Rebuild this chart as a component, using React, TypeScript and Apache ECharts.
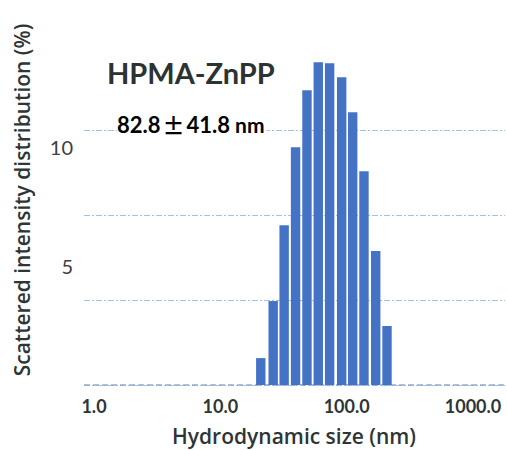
import React, { useEffect, useRef } from "react";
import * as echarts from "echarts";

// Bin centres (nm) and scattered intensity distribution (%)
const sizesNm = [20.9, 26.2, 32.0, 39.4, 48.5, 59.6, 73.3, 91.3, 111.6, 137.1, 169.8, 208.6];
const intensityPct = [1.13, 3.53, 6.72, 10.0, 12.39, 13.57, 13.53, 12.94, 11.47, 8.99, 5.63, 2.48];
const yTickLabels = [5, 10];
const gridLineLevels = [0, 1, 2, 3];

const sampleName = "HPMA-ZnPP";
const meanText = "82.8";
const pmText = "\u00b1";
const sdText = "41.8";
const unitText = "nm";
const xName = "Hydrodynamic size (nm)";
const yName = "Scattered intensity distribution (%)";

const FONT = "Lato, 'Open Sans', sans-serif";
const TITLE_FONT = "'Open Sans', Lato, sans-serif";

export default function App() {
  const ref = useRef<HTMLDivElement>(null);

  useEffect(() => {
    if (!ref.current) return;
    const chart = echarts.init(ref.current, undefined, { renderer: "svg" });
    const barData = sizesNm.map((s, i) => [s, intensityPct[i]]);

    chart.setOption({
      animation: false,
      backgroundColor: "#ffffff",
      grid: [
        { left: 94, right: 34, top: 52, bottom: 65 },
        { left: 84, right: 2, top: 130, bottom: 65 },
      ],
      xAxis: [
        {
          type: "log",
          gridIndex: 0,
          min: 1,
          max: 1000,
          logBase: 10,
          axisLine: { show: false },
          axisTick: { show: false },
          splitLine: { show: false },
          axisLabel: {
            margin: 12,
            color: "#2e3535",
            fontFamily: FONT,
            fontWeight: "bold",
            fontSize: 18,
            formatter: (v: number) => v.toFixed(1),
          },
        },
        {
          type: "value",
          gridIndex: 1,
          min: 0,
          max: 1,
          show: false,
        },
      ],
      yAxis: [
        {
          type: "value",
          gridIndex: 0,
          min: 0,
          max: 14,
          interval: 5,
          axisLine: { show: false },
          axisTick: { show: false },
          splitLine: { show: false },
          axisLabel: {
            margin: 21,
            color: "#404040",
            fontFamily: FONT,
            fontSize: 20,
            formatter: (v: number) => (yTickLabels.indexOf(v) >= 0 ? String(v) : ""),
          },
        },
        {
          type: "value",
          gridIndex: 1,
          min: gridLineLevels[0],
          max: gridLineLevels[gridLineLevels.length - 1],
          interval: 1,
          axisLine: { show: false },
          axisTick: { show: false },
          axisLabel: { show: false },
          splitLine: {
            show: true,
            lineStyle: { color: "#9dc3e6", width: 1, type: [6, 2, 2, 2] },
          },
        },
      ],
      series: [
        {
          type: "custom",
          xAxisIndex: 0,
          yAxisIndex: 0,
          z: 5,
          data: barData,
          renderItem: (params: any, api: any) => {
            const top = api.coord([api.value(0), api.value(1)]);
            const base = api.coord([api.value(0), 0]);
            const w = 9.4;
            return {
              type: "rect",
              shape: { x: top[0] - w / 2, y: top[1], width: w, height: base[1] - top[1] },
              style: { fill: "#4472c4" },
            };
          },
        },
        {
          type: "line",
          xAxisIndex: 1,
          yAxisIndex: 1,
          data: [],
          markLine: {
            silent: true,
            symbol: "none",
            label: { show: false },
            lineStyle: { color: "#94abc9", width: 1.5, type: [6, 3] },
            data: [{ yAxis: 0 }],
          },
        },
      ],
      graphic: [
        {
          type: "text",
          left: 107,
          top: 58,
          style: {
            text: sampleName,
            fill: "#2b3333",
            font: `bold 29px ${FONT}`,
          },
        },
        {
          type: "text",
          x: 117,
          y: 124,
          z: 10,
          style: {
            text: `{a|${meanText}}{b|${pmText}}{a|${sdText}}{c| ${unitText}}`,
            verticalAlign: "middle",
            backgroundColor: "#ffffff",
            padding: [0, 2, 0, 0],
            rich: {
              a: { fontFamily: FONT, fontSize: 22, fontWeight: "bold", color: "#343c3c" },
              b: { fontFamily: "'Noto Sans CJK JP', sans-serif", fontSize: 22, fontWeight: "bold", color: "#343c3c", padding: [0, 2, 0, 2] },
              c: { fontFamily: FONT, fontSize: 21, fontWeight: "bold", color: "#343c3c" },
            },
          },
        },
        {
          type: "text",
          x: 294,
          y: 436,
          style: {
            text: xName,
            fill: "#2e3535",
            font: `600 21px ${TITLE_FONT}`,
            align: "center",
            verticalAlign: "middle",
          },
        },
        {
          type: "text",
          x: 22,
          y: 200,
          rotation: Math.PI / 2,
          style: {
            text: yName,
            fill: "#2e3535",
            font: `600 21px ${TITLE_FONT}`,
            align: "center",
            verticalAlign: "middle",
          },
        },
      ],
    });

    return () => chart.dispose();
  }, []);

  return (
    <div
      ref={ref}
      style={{ position: "fixed", left: 0, top: 0, width: 507, height: 450 }}
    />
  );
}
